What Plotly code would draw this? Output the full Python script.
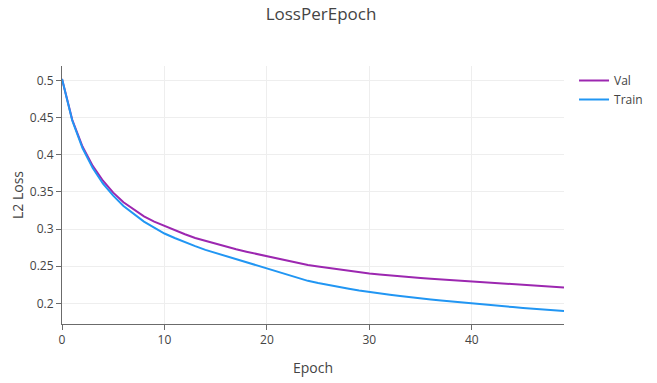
import plotly.graph_objects as go

epochs = list(range(50))

val_loss = [0.502, 0.447, 0.411, 0.385, 0.365, 0.349, 0.336, 0.326, 0.317, 0.310,
            0.304, 0.298, 0.293, 0.288, 0.284, 0.280, 0.276, 0.2727, 0.2695, 0.2664,
            0.2633, 0.2603, 0.2574, 0.2545, 0.2516, 0.2495, 0.2475, 0.2457, 0.2440, 0.2421,
            0.2403, 0.2390, 0.2376, 0.2365, 0.2354, 0.2342, 0.2331, 0.2322, 0.2314, 0.2302,
            0.2291, 0.2282, 0.2273, 0.2264, 0.2255, 0.2248, 0.2242, 0.2233, 0.2224, 0.2215]

train_loss = [0.502, 0.446, 0.409, 0.382, 0.361, 0.345, 0.331, 0.320, 0.310, 0.302,
              0.294, 0.288, 0.282, 0.277, 0.272, 0.2678, 0.2637, 0.2595, 0.2552, 0.2509,
              0.2466, 0.2426, 0.2386, 0.2345, 0.2303, 0.2274, 0.2246, 0.2221, 0.2197, 0.2174,
              0.2152, 0.2134, 0.2116, 0.2098, 0.2080, 0.2066, 0.2053, 0.2040, 0.2026, 0.2013,
              0.2000, 0.1986, 0.1972, 0.1961, 0.1950, 0.1939, 0.1928, 0.1916, 0.1905, 0.1896]

fig = go.Figure()
fig.add_trace(go.Scatter(x=epochs, y=val_loss, mode="lines", name="Val",
                         line=dict(color="#9C27B0", width=2)))
fig.add_trace(go.Scatter(x=epochs, y=train_loss, mode="lines", name="Train",
                         line=dict(color="#2196F3", width=2)))

fig.update_layout(
    width=657, height=383,
    margin=dict(l=62, r=93, t=66, b=59, autoexpand=False),
    paper_bgcolor="white", plot_bgcolor="white",
    font=dict(family="Open Sans, sans-serif", color="#444", size=12),
    title=dict(text="LossPerEpoch", x=0.4886, xanchor="center", xref="container",
               y=0.979, yanchor="top", yref="container",
               font=dict(size=17)),
    legend=dict(x=1.02, y=1, xanchor="left", yanchor="top", font=dict(size=12)),
    xaxis=dict(title=dict(text="Epoch", font=dict(size=14)), showline=True, linecolor="#6b6b6b",
               linewidth=1, ticks="outside", ticklen=5, tickcolor="#6b6b6b", automargin=False,
               showgrid=True, gridcolor="#eeeeee", zeroline=False, dtick=10, tick0=0),
    yaxis=dict(title=dict(text="L2 Loss", font=dict(size=14), standoff=2), showline=True,
               linecolor="#6b6b6b", linewidth=1, ticks="outside", ticklen=5,
               tickcolor="#6b6b6b", automargin=True,
               showgrid=True, gridcolor="#eeeeee", zeroline=False, dtick=0.05, tick0=0),
)

fig.write_html("out.html", config={"displayModeBar": False},
               post_script="document.body.style.margin='0';")
